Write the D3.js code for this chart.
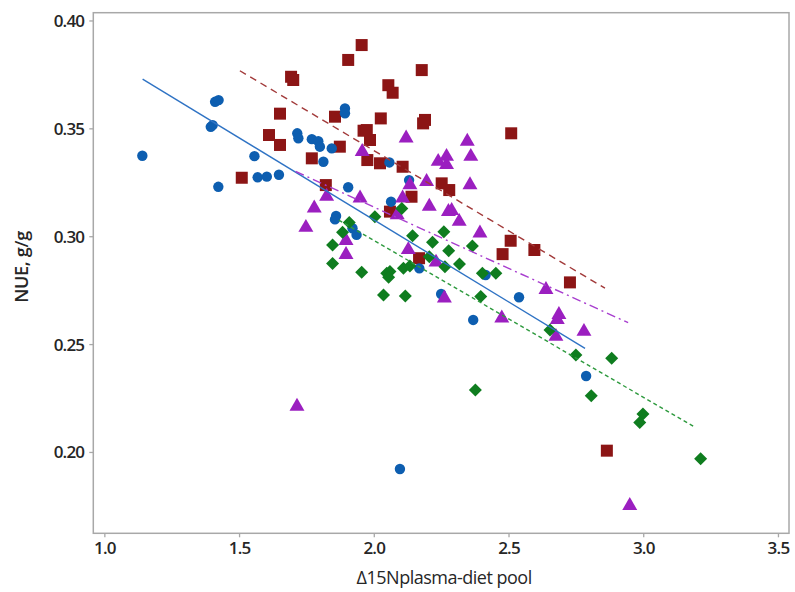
<!DOCTYPE html>
<html>
<head>
<meta charset="utf-8">
<script src="https://cdn.jsdelivr.net/npm/d3@7"></script>
<style>
  body { margin: 0; background: #fff; }
  text { font-family: "Open Sans", "DejaVu Sans Condensed", sans-serif; }
</style>
</head>
<body>
<div id="chart"></div>
<script>
// x ticks / y ticks
const xTicks = [1.0, 1.5, 2.0, 2.5, 3.0, 3.5]
const yTicks = [0.20, 0.25, 0.30, 0.35, 0.40]

// group 1 - blue circles
const blueX = [1.141,1.411,1.424,1.402,1.395,1.423,1.557,1.569,1.603,1.648,1.716,1.72,1.77,1.794,1.8,1.813,1.844,1.893,1.893,1.905,2.058,2.131,2.064,1.86,1.856,1.921,1.936,2.169,2.25,2.415,2.539,2.369,2.788,2.097]
const blueY = [0.3373,0.3623,0.3631,0.3515,0.3507,0.3229,0.3371,0.3273,0.3276,0.3285,0.3477,0.3454,0.345,0.344,0.3415,0.3345,0.3407,0.3592,0.357,0.3227,0.3342,0.326,0.316,0.3094,0.3078,0.3037,0.3006,0.2851,0.2732,0.282,0.2717,0.2612,0.2352,0.1921]

// group 2 - red squares
const redX = [1.51,1.652,1.611,1.652,1.693,1.701,1.77,1.822,1.856,1.874,1.905,1.955,2.178,2.054,2.07,2.026,2.19,2.183,2.51,1.962,1.974,1.986,1.976,2.023,2.107,2.252,2.28,2.14,2.06,2.168,2.508,2.478,2.596,2.728,2.865]
const redY = [0.3271,0.3568,0.3469,0.3423,0.3739,0.3724,0.3361,0.3237,0.3554,0.3415,0.3817,0.3886,0.377,0.37,0.3665,0.3546,0.3539,0.3523,0.3477,0.3489,0.3492,0.3446,0.3353,0.3338,0.3322,0.3245,0.3214,0.3183,0.3114,0.2898,0.2979,0.2917,0.2936,0.2786,0.2006]

// group 3 - purple triangles
const purpleX = [1.825,1.957,2.12,2.347,2.239,2.27,2.27,2.36,2.134,2.196,2.357,1.949,2.107,1.779,1.748,1.897,1.897,2.206,2.087,2.277,2.289,2.317,2.394,2.128,2.231,2.262,2.639,2.475,2.687,2.681,2.78,2.676,1.715,2.95]
const purpleY = [0.3191,0.3399,0.3461,0.3446,0.3353,0.3376,0.3338,0.3376,0.3245,0.326,0.3245,0.3183,0.3183,0.3137,0.3047,0.2986,0.2921,0.3145,0.3106,0.3121,0.3125,0.3075,0.3021,0.2944,0.2886,0.272,0.2759,0.2627,0.2643,0.262,0.2565,0.2542,0.2218,0.1758]

// group 4 - green diamonds
const greenX = [1.909,2.004,1.884,1.847,1.847,1.955,2.048,2.06,2.055,2.11,2.134,2.206,2.264,2.144,2.218,2.26,2.278,2.104,2.036,2.117,2.366,2.318,2.403,2.453,2.397,2.654,2.75,2.883,2.377,2.807,2.999,2.987,3.213]
const greenY = [0.3064,0.309,0.3018,0.2959,0.2874,0.2833,0.2828,0.2836,0.281,0.2851,0.2862,0.2905,0.2858,0.3002,0.2972,0.3021,0.2933,0.3129,0.2728,0.2723,0.2955,0.2871,0.2828,0.2828,0.272,0.2565,0.2449,0.2434,0.2287,0.226,0.2176,0.2136,0.1968]

// fitted lines, [x start, x end] and [y start, y end]
const blueFitX = [1.142, 2.784], blueFitY = [0.3728, 0.248]
const redFitX = [1.503, 2.858], redFitY = [0.3767, 0.2759]
const purpleFitX = [1.71, 2.944], purpleFitY = [0.330, 0.2599]
const greenFitX = [1.87, 3.194], greenFitY = [0.3075, 0.2113]

const W = 795, H = 592
const FRAME = { LEFT: 93.3, RIGHT: 789, TOP: 12.7, BOTTOM: 533.3 }

const svg = d3.select("#chart").append("svg")
  .attr("width", W)
  .attr("height", H)

const x = d3.scaleLinear().domain([0.959, 3.541]).range([FRAME.LEFT, FRAME.RIGHT])
const y = d3.scaleLinear().domain([0.1623, 0.4036]).range([FRAME.BOTTOM, FRAME.TOP])

const AXIS_COL = "#a8a8a8"
const TEXT_COL = "#262626"

const xAxis = svg.append("g")
  .attr("transform", `translate(0, ${FRAME.BOTTOM})`)
  .call(d3.axisBottom(x).tickValues(xTicks).tickFormat(d3.format(".1f")).tickSize(4).tickSizeOuter(0).tickPadding(1))
const yAxis = svg.append("g")
  .attr("transform", `translate(${FRAME.LEFT}, 0)`)
  .call(d3.axisLeft(y).tickValues(yTicks).tickFormat(d3.format(".2f")).tickSize(4).tickSizeOuter(0).tickPadding(5))

;[xAxis, yAxis].forEach(g => {
  g.select(".domain").remove()
  g.selectAll(".tick line").attr("stroke", AXIS_COL).attr("stroke-width", 1.3)
  g.selectAll(".tick text")
    .attr("fill", TEXT_COL)
    .attr("font-size", 17)
    .attr("font-weight", 600)
    .attr("letter-spacing", -0.8)
    .attr("font-family", "'Open Sans', sans-serif")
})
xAxis.selectAll(".tick text").attr("dy", "0.9em")
yAxis.selectAll(".tick text").attr("dy", "0.35em")

// frame
svg.append("rect")
  .attr("x", x.range()[0])
  .attr("y", y.range()[1])
  .attr("width", x.range()[1] - x.range()[0])
  .attr("height", y.range()[0] - y.range()[1])
  .attr("fill", "none")
  .attr("stroke", AXIS_COL)
  .attr("stroke-width", 1.5)

// axis titles
svg.append("text")
  .attr("transform", `translate(28, ${(FRAME.TOP + FRAME.BOTTOM) / 2 - 6}) rotate(-90)`)
  .attr("text-anchor", "middle")
  .attr("font-size", 18)
  .attr("font-weight", 600)
  .attr("letter-spacing", -0.3)
  .attr("fill", TEXT_COL)
  .text("NUE, g/g")

svg.append("text")
  .attr("x", (FRAME.LEFT + FRAME.RIGHT) / 2 + 3)
  .attr("y", 584)
  .attr("text-anchor", "middle")
  .attr("font-size", 18)
  .attr("letter-spacing", -0.5)
  .attr("fill", TEXT_COL)
  .text("Δ15Nplasma-diet pool")

// shapes
const shapes = {
  circle: r => `M${-r},0A${r},${r} 0 1,0 ${r},0A${r},${r} 0 1,0 ${-r},0Z`,
  square: s => `M${-s},${-s}H${s}V${s}H${-s}Z`,
  triangle: s => `M0,${-s * 1.05}L${s * 1.1},${s * 0.85}H${-s * 1.1}Z`,
  diamond: s => `M0,${-s}L${s},0L0,${s}L${-s},0Z`
}

const groups = [
  { xs: redX, ys: redY, fx: redFitX, fy: redFitY, color: "#8c1515", shape: shapes.square(6), dash: "7,5" },
  { xs: blueX, ys: blueY, fx: blueFitX, fy: blueFitY, color: "#0d5eb0", shape: shapes.circle(5.2), dash: null },
  { xs: purpleX, ys: purpleY, fx: purpleFitX, fy: purpleFitY, color: "#9b1fc0", shape: shapes.triangle(6.8), dash: "9,4,2,4" },
  { xs: greenX, ys: greenY, fx: greenFitX, fy: greenFitY, color: "#0f7d1f", shape: shapes.diamond(6.5), dash: "4,3" }
]

groups.forEach(grp => {
  const pts = grp.xs.map((v, i) => ({ x: v, y: grp.ys[i] }))
  svg.append("g").selectAll("path")
    .data(pts)
    .enter().append("path")
    .attr("transform", d => `translate(${x(d.x)}, ${y(d.y)})`)
    .attr("d", grp.shape)
    .attr("fill", grp.color)
})

const line = d3.line().x(d => x(d[0])).y(d => y(d[1]))
const lineCols = ["#a23a3a", "#2f73c4", "#a83ecf", "#2e9a3e"]
groups.forEach((grp, i) => {
  svg.append("path")
    .datum(grp.fx.map((v, j) => [v, grp.fy[j]]))
    .attr("d", line)
    .attr("fill", "none")
    .attr("stroke", lineCols[i])
    .attr("stroke-width", 1.4)
    .attr("stroke-dasharray", grp.dash)
})
</script>
</body>
</html>
